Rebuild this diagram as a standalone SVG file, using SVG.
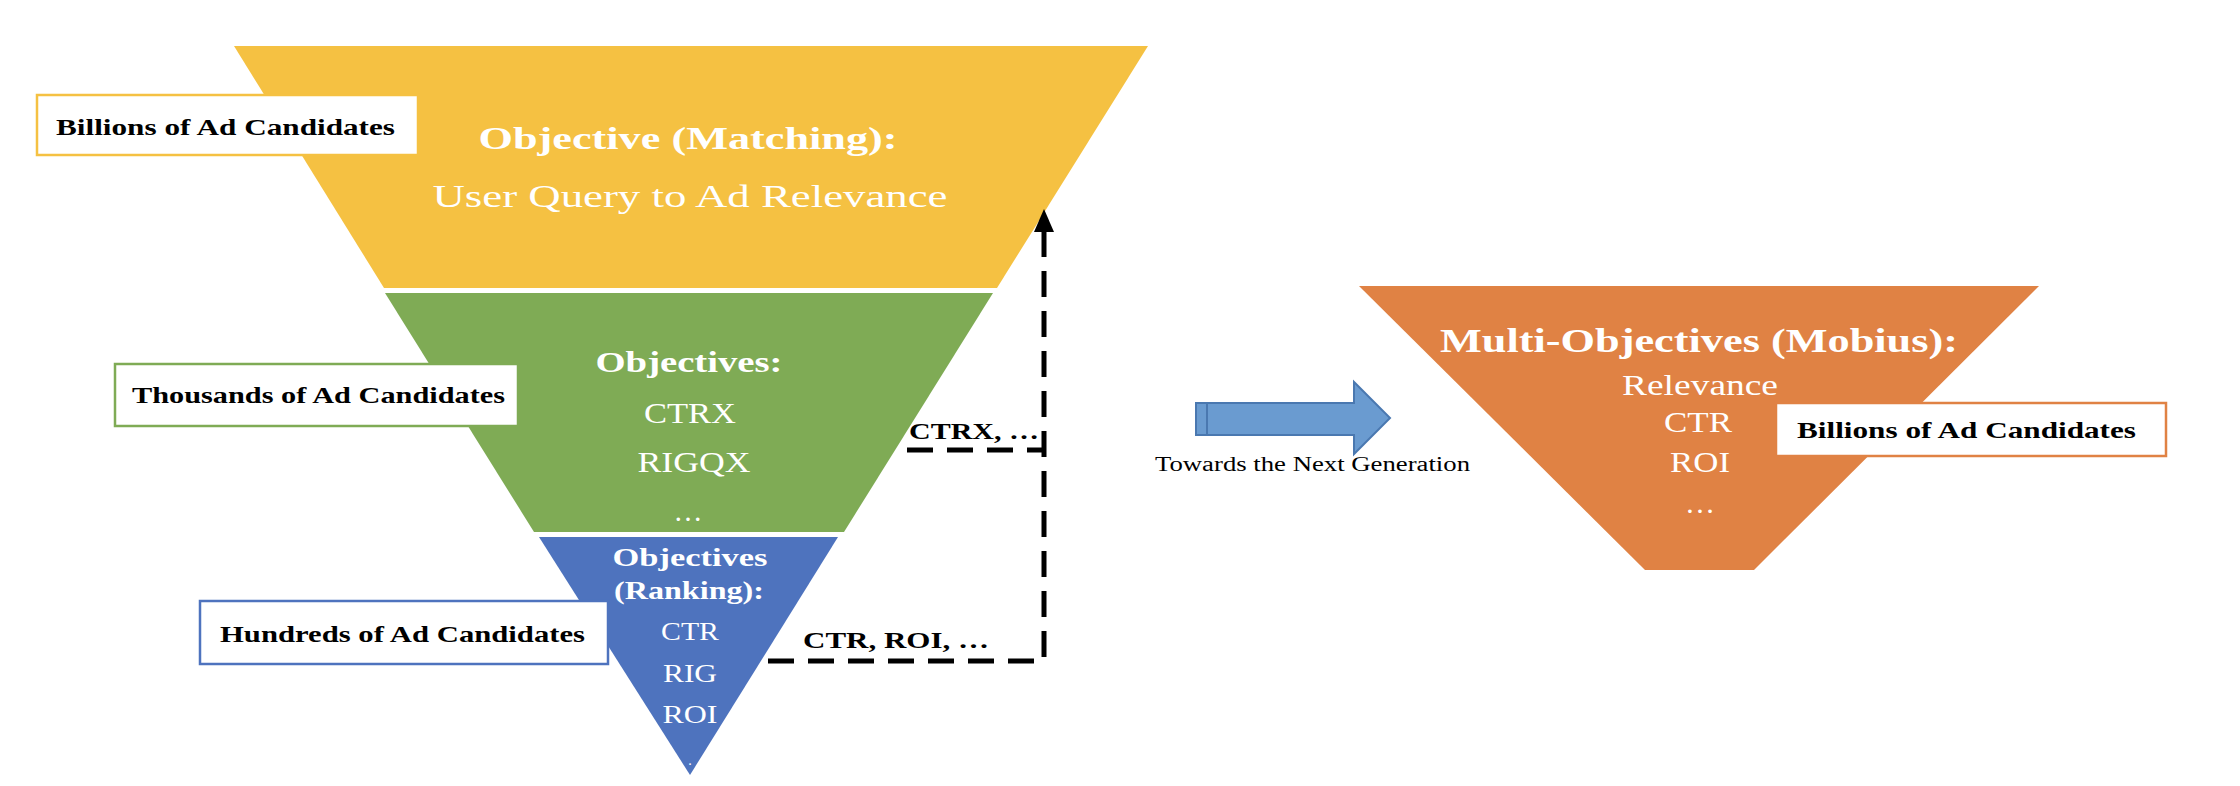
<svg xmlns="http://www.w3.org/2000/svg" width="2240" height="786" viewBox="0 0 2240 786">
<defs>
<style>
.w{fill:#fff;font-family:"Liberation Serif","DejaVu Serif",serif;text-anchor:middle}
.b{font-weight:bold}
.lbl{fill:#000;font-family:"Liberation Serif","DejaVu Serif",serif;font-weight:bold}
.box{fill:#fff;stroke-width:2.5}
.dash{fill:none;stroke:#000;stroke-width:5;stroke-dasharray:26 14}
</style>
<marker id="ah" markerWidth="6" markerHeight="6" refX="5" refY="3" orient="auto" markerUnits="strokeWidth"><path d="M0,0 L6,3 L0,6 Z" fill="#000"/></marker>
</defs>
<rect width="2240" height="786" fill="#fff"/>
<g id="matching">
<polygon points="234,46 1148,46 997,288 384,288" fill="#f5c142"/>
<text class="w b" x="688" y="149" font-size="32" textLength="419" lengthAdjust="spacingAndGlyphs">Objective (Matching):</text>
<text class="w" x="690" y="207" font-size="32" textLength="515" lengthAdjust="spacingAndGlyphs">User Query to Ad Relevance</text>
</g>
<g id="middle">
<polygon points="385,293 993,293 844,532 534,532" fill="#7fab55"/>
<text class="w b" x="689" y="372" font-size="29" textLength="187" lengthAdjust="spacingAndGlyphs">Objectives:</text>
<text class="w" x="690" y="423" font-size="29" textLength="92" lengthAdjust="spacingAndGlyphs">CTRX</text>
<text class="w" x="694" y="472" font-size="29" textLength="113" lengthAdjust="spacingAndGlyphs">RIGQX</text>
<text class="w" x="688" y="521" font-size="29">…</text>
</g>
<g id="ranking">
<polygon points="539,537 838,537 690,775" fill="#4e73be"/>
<text class="w b" x="690" y="566" font-size="25" textLength="155" lengthAdjust="spacingAndGlyphs">Objectives</text>
<text class="w b" x="689" y="599" font-size="25" textLength="150" lengthAdjust="spacingAndGlyphs">(Ranking):</text>
<text class="w" x="690" y="640" font-size="26" textLength="58" lengthAdjust="spacingAndGlyphs">CTR</text>
<text class="w" x="690" y="682" font-size="26" textLength="54" lengthAdjust="spacingAndGlyphs">RIG</text>
<text class="w" x="690" y="723" font-size="26" textLength="55" lengthAdjust="spacingAndGlyphs">ROI</text>
<text class="w" x="690" y="765" font-size="14">.</text>
</g>
<g id="label-billions">
<rect class="box" x="37" y="95" width="381" height="60" stroke="#f5c142"/>
<text class="lbl" x="56" y="135" font-size="23" textLength="339" lengthAdjust="spacingAndGlyphs">Billions of Ad Candidates</text>
</g>
<g id="label-thousands">
<rect class="box" x="115" y="364" width="403" height="62" stroke="#7fab55"/>
<text class="lbl" x="132" y="403" font-size="23" textLength="373" lengthAdjust="spacingAndGlyphs">Thousands of Ad Candidates</text>
</g>
<g id="label-hundreds">
<rect class="box" x="200" y="601" width="408" height="63" stroke="#4e73be"/>
<text class="lbl" x="220" y="642" font-size="23" textLength="365" lengthAdjust="spacingAndGlyphs">Hundreds of Ad Candidates</text>
</g>
<g id="connectors">
<path class="dash" d="M768,661 L1044,661 L1044,222"/>
<path d="M1034,232 L1044,209 L1054,232 Z" fill="#000"/>
<path class="dash" d="M907,450 L1044,450"/>
<text class="lbl" x="909" y="439" font-size="24" textLength="130" lengthAdjust="spacingAndGlyphs">CTRX, …</text>
<text class="lbl" x="803" y="648" font-size="24" textLength="186" lengthAdjust="spacingAndGlyphs">CTR, ROI, …</text>
</g>
<g id="arrow-next">
<polygon points="1196,403 1354,403 1354,382 1390,418 1354,454 1354,435 1196,435" fill="#6a9bd0" stroke="#4a78b0" stroke-width="2"/>
<line x1="1207" y1="404" x2="1207" y2="434" stroke="#4a78b0" stroke-width="2"/>
<text x="1155" y="471" font-size="20" font-family="Liberation Serif,serif" fill="#000" textLength="315" lengthAdjust="spacingAndGlyphs">Towards the Next Generation</text>
</g>
<g id="mobius">
<polygon points="1359,286 2039,286 1754,570 1645,570" fill="#e08244"/>
<text class="w b" x="1699" y="352" font-size="34" textLength="518" lengthAdjust="spacingAndGlyphs">Multi-Objectives (Mobius):</text>
<text class="w" x="1700" y="395" font-size="30" textLength="156" lengthAdjust="spacingAndGlyphs">Relevance</text>
<text class="w" x="1698" y="432" font-size="30" textLength="68" lengthAdjust="spacingAndGlyphs">CTR</text>
<text class="w" x="1700" y="472" font-size="30" textLength="60" lengthAdjust="spacingAndGlyphs">ROI</text>
<text class="w" x="1700" y="513" font-size="30">…</text>
</g>
<g id="label-billions-2">
<rect class="box" x="1776" y="403" width="390" height="53" stroke="#e08244"/>
<text class="lbl" x="1797" y="438" font-size="23" textLength="339" lengthAdjust="spacingAndGlyphs">Billions of Ad Candidates</text>
</g>
</svg>
